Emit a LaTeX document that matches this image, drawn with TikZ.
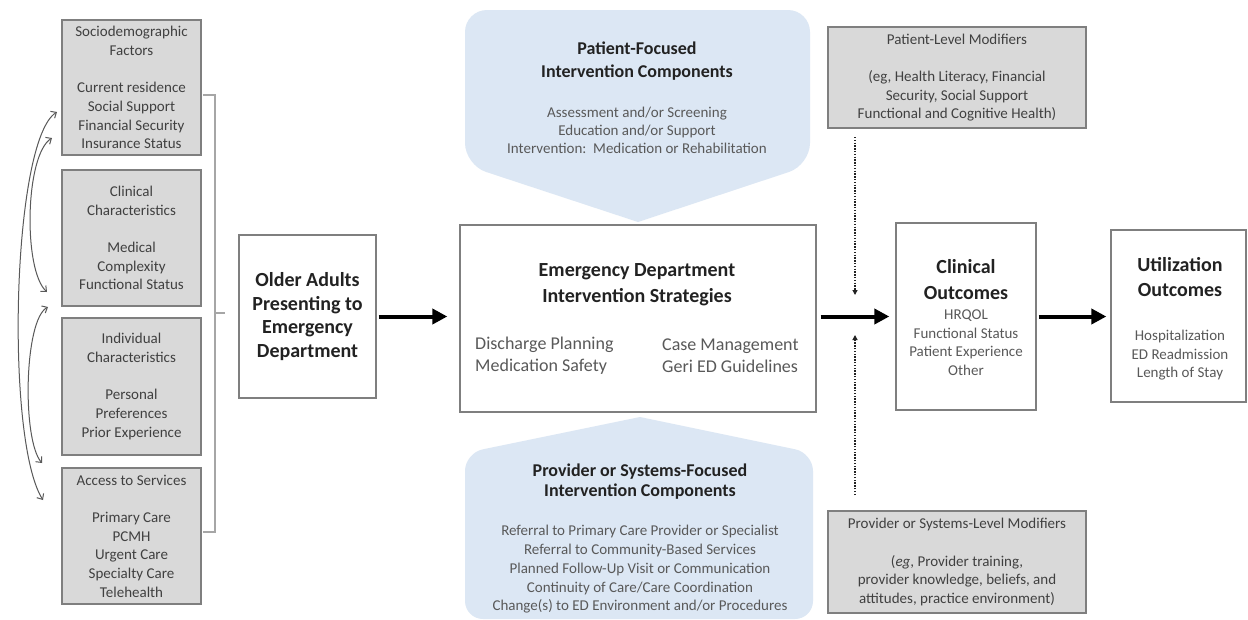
\documentclass[tikz,border=0pt]{standalone}
\usepackage{fontspec}
\setmainfont{Carlito}
\usetikzlibrary{arrows.meta}
\definecolor{boxgray}{HTML}{D9D9D9}
\definecolor{edge}{HTML}{7F7F7F}
\definecolor{txt}{HTML}{404040}
\definecolor{itemtxt}{HTML}{595959}
\definecolor{headtxt}{HTML}{222222}
\definecolor{callblue}{HTML}{DCE7F4}
\definecolor{brack}{HTML}{A6A6A6}
\newcommand{\fsz}[2]{\fontsize{#1}{#2}\selectfont}
\begin{document}
\begin{tikzpicture}[x=1pt,y=-1pt,
  greybox/.style={draw=edge, fill=boxgray, line width=1.5pt, inner sep=0pt, text=txt, align=center, font=\fsz{15}{18.7}},
  whitebox/.style={draw=edge, fill=white, line width=1.3pt, inner sep=0pt, align=center},
  txtnode/.style={inner sep=0pt, align=center},
  bigarrow/.style={line width=4pt, draw=black, -{Triangle[length=15pt,width=15pt]}},
  dotarrow/.style={line width=1.2pt, draw=headtxt, dash pattern=on 1.4pt off 1.4pt, -{Triangle[length=5pt,width=5pt]}},
  curvearrow/.style={draw=itemtxt, line width=1pt, {Straight Barb[length=4.5pt,width=8pt]}-{Straight Barb[length=4.5pt,width=8pt]}},
  bracketline/.style={draw=brack, line width=2pt},
  callout/.style={fill=callblue}
]
\useasboundingbox (0,0) rectangle (1248,619);
\fill[white] (0,0) rectangle (1248,619);

% callouts
\fill[callout] (638,222) [rounded corners=22pt] -- (465,165) -- (465,10) -- (810,10) -- (810,165) [sharp corners] -- cycle;
\fill[callout] (640,417) [rounded corners=18pt] -- (813,453) -- (813,619) -- (465,619) -- (465,453) [sharp corners] -- cycle;

\node[txtnode, text=headtxt, font=\bfseries\fsz{18}{23}] (pfh) at (637,61.5) {Patient-Focused\\Intervention Components};
\node[txtnode, text=itemtxt, font=\fsz{15}{18}] (pfi) at (637,130) {Assessment and/or Screening\\Education and/or Support\\Intervention:\ \ Medication or Rehabilitation};

\node[txtnode, text=headtxt, font=\bfseries\fsz{18}{20}] (psh) at (640,482) {Provider or Systems-Focused\\Intervention Components};
\node[txtnode, text=itemtxt, font=\fsz{15}{18.75}] (psi) at (640,569.5) {Referral to Primary Care Provider or Specialist\\Referral to Community-Based Services\\Planned Follow-Up Visit or Communication\\Continuity of Care/Care Coordination\\Change(s) to ED Environment and/or Procedures};

% left column
\node[greybox, minimum width=139pt, minimum height=135pt] (soc) at (131.5,87.5) {Sociodemographic\\Factors\\[18.7pt]Current residence\\Social Support\\Financial Security\\Insurance Status};
\node[greybox, minimum width=139pt, minimum height=136pt] (clinc) at (131.5,238) {Clinical\\Characteristics\\[18.7pt]Medical\\Complexity\\Functional Status};
\node[greybox, minimum width=139pt, minimum height=137pt] (indiv) at (131.5,386.5) {Individual\\Characteristics\\[18.7pt]Personal\\Preferences\\Prior Experience};
\node[greybox, minimum width=139pt, minimum height=136pt] (access) at (131.5,536) {Access to Services\\[18.7pt]Primary Care\\PCMH\\Urgent Care\\Specialty Care\\Telehealth};

% curved double arrows
\coordinate (c1a) at (57,112);
\coordinate (c1b) at (43,500);
\coordinate (c2a) at (52,138);
\coordinate (c2b) at (47,292);
\coordinate (c3a) at (48,307);
\coordinate (c3b) at (42,463);
\draw[curvearrow] (c1a) .. controls (12,140) and (5,440) .. (c1b);
\draw[curvearrow] (c2a) .. controls (25,155) and (23,270) .. (c2b);
\draw[curvearrow] (c3a) .. controls (24,320) and (22,440) .. (c3b);

% bracket
\coordinate (bt) at (203,95);
\coordinate (bb) at (203,532);
\coordinate (bm) at (225,313);
\draw[bracketline] (bt) -- (215,95) -- (215,532) -- (bb);
\draw[bracketline] (215,313) -- (bm);

% older adults
\node[whitebox, minimum width=137pt, minimum height=163pt, text=headtxt, font=\bfseries\fsz{20}{23.5}] (older) at (307.5,316.5) {Older Adults\\Presenting to\\Emergency\\Department};

% center box
\node[whitebox, minimum width=356pt, minimum height=187pt] (edbox) at (638,318.5) {};
\node[txtnode, text=headtxt, font=\bfseries\fsz{20}{26}] (edh) at (637,285) {Emergency Department\\Intervention Strategies};
\node[txtnode, anchor=west, align=left, text=itemtxt, font=\fsz{18}{22}] (edl) at (475,356) {Discharge Planning\\Medication Safety};
\node[txtnode, anchor=west, align=left, text=itemtxt, font=\fsz{18}{22}] (edr) at (662,356) {Case Management\\Geri ED Guidelines};

% modifiers
\node[greybox, minimum width=258pt, minimum height=101pt] (pmod) at (957,77.5) {Patient-Level Modifiers\\[18.7pt](eg, Health Literacy, Financial\\Security, Social Support\\Functional and Cognitive Health)};
\node[greybox, minimum width=258pt, minimum height=102pt] (smod) at (957,562) {Provider or Systems-Level Modifiers\\[18.7pt](\textit{eg}, Provider training,\\provider knowledge, beliefs, and\\attitudes, practice environment)};

% clinical outcomes
\node[whitebox, minimum width=140pt, minimum height=187pt] (clin) at (966,316.5) {};
\node[txtnode, text=headtxt, font=\bfseries\fsz{20}{26}] (clinh) at (966,280) {Clinical\\Outcomes};
\node[txtnode, text=itemtxt, font=\fsz{15}{18.5}] (clini) at (966,342.5) {HRQOL\\Functional Status\\Patient Experience\\Other};

% utilization outcomes
\node[whitebox, minimum width=135pt, minimum height=172pt] (util) at (1178.5,316) {};
\node[txtnode, text=headtxt, font=\bfseries\fsz{20}{25}] (utilh) at (1180,277.5) {Utilization\\Outcomes};
\node[txtnode, text=itemtxt, font=\fsz{15}{18.5}] (utili) at (1180,355.5) {Hospitalization\\ED Readmission\\Length of Stay};

% dotted modifier arrows
\coordinate (dtop) at (855,137);
\coordinate (dm1) at (855,295);
\coordinate (dbot) at (855,495);
\coordinate (dm2) at (855,335);
\draw[dotarrow] (dtop) -- (dm1);
\draw[dotarrow] (dbot) -- (dm2);

% main arrows
\draw[bigarrow] ([xshift=2pt]older.east) -- ([xshift=-12pt]older.east -| edbox.west);
\draw[bigarrow] ([xshift=4pt]edbox.east |- clin.west) -- ([xshift=-6pt]clin.west);
\draw[bigarrow] ([xshift=2pt]clin.east) -- ([xshift=-4pt]clin.east -| util.west);
\end{tikzpicture}
\end{document}
